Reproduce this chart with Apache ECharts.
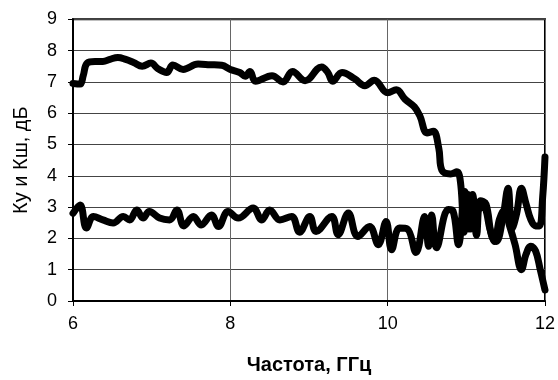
<!DOCTYPE html>
<html>
<head>
<meta charset="utf-8">
<script src="https://cdn.jsdelivr.net/npm/echarts@6/dist/echarts.min.js"></script>
<style>html,body{margin:0;padding:0;background:#fff}#c{width:558px;height:380px}</style>
</head>
<body>
<div id="c"></div>
<script>
// Ку (gain), frequency in GHz and value in dB
var kuFreq = [6.00,6.09,6.13,6.18,6.28,6.38,6.47,6.57,6.67,6.77,6.88,6.99,7.08,7.19,7.27,7.40,7.59,7.74,7.89,8.00,8.12,8.19,8.25,8.32,8.53,8.67,8.79,8.95,9.16,9.24,9.30,9.42,9.58,9.71,9.83,10.00,10.11,10.22,10.34,10.41,10.50,10.58,10.65,10.69,10.80,10.88,10.93,10.97,11.02,11.06,11.10,11.15,11.20,11.25,11.30,11.36,11.42,11.48,11.55,11.62,11.70,11.76,11.82,11.88,11.94,12.00];
var kuVal  = [6.95,6.93,7.20,7.60,7.65,7.65,7.72,7.78,7.72,7.62,7.50,7.60,7.42,7.30,7.54,7.40,7.57,7.55,7.53,7.40,7.30,7.18,7.33,7.02,7.20,7.00,7.33,7.04,7.48,7.30,7.02,7.30,7.10,6.88,7.05,6.65,6.75,6.45,6.20,5.91,5.37,5.42,4.88,4.17,4.06,4.13,3.70,2.20,3.40,2.30,3.20,2.90,3.10,2.90,2.30,1.90,2.60,2.90,2.40,1.80,1.00,1.50,1.75,1.60,1.00,0.35];
// Кш (noise figure)
var kshFreq = [6.00,6.09,6.17,6.26,6.38,6.51,6.64,6.72,6.81,6.89,6.97,7.10,7.23,7.32,7.41,7.53,7.63,7.76,7.85,7.97,8.10,8.29,8.40,8.50,8.63,8.78,8.88,9.01,9.09,9.29,9.37,9.50,9.62,9.77,9.88,9.98,10.05,10.15,10.25,10.36,10.47,10.52,10.56,10.62,10.77,10.83,10.90,10.98,11.03,11.08,11.13,11.18,11.25,11.32,11.38,11.46,11.53,11.58,11.64,11.70,11.76,11.82,11.88,11.93,11.97,12.00];
var kshVal  = [2.80,3.07,2.33,2.70,2.59,2.49,2.70,2.59,2.91,2.65,2.86,2.65,2.59,2.91,2.40,2.70,2.43,2.75,2.38,2.86,2.65,2.97,2.59,2.91,2.59,2.70,2.20,2.70,2.22,2.70,2.12,2.81,2.06,2.38,1.80,2.54,1.64,2.33,2.30,1.55,2.70,1.75,2.75,1.70,2.92,2.88,1.80,3.50,2.30,3.40,2.10,3.20,3.10,2.10,1.90,2.60,3.60,2.30,2.80,3.60,3.10,2.60,2.40,2.40,3.30,4.60];
var xTicks = [6, 8, 10, 12];
var yTicks = [0,1,2,3,4,5,6,7,8,9];
var xTitle = 'Частота, ГГц';
var yTitle = 'Ку и Кш, дБ';

function pairs(xs, ys){ return xs.map(function(x,i){ return [x, ys[i]]; }); }

var chart = echarts.init(document.getElementById('c'), null, {renderer:'canvas'});
var font = 'Liberation Sans, Arial, sans-serif';
chart.setOption({
  animation: false,
  backgroundColor: '#fff',
  grid: {left: 73, right: 12.5, top: 19.3, bottom: 78.7, show: true, borderColor: '#000', borderWidth: 2, containLabel: false},
  xAxis: {
    type: 'value', min: xTicks[0], max: xTicks[xTicks.length-1], interval: 2,
    name: xTitle, nameLocation: 'middle', nameGap: 54,
    nameTextStyle: {fontFamily: font, fontSize: 20, fontWeight: 'bold', color: '#000'},
    axisLine: {show: true, lineStyle: {color: '#000', width: 2}},
    axisTick: {show: true, inside: false, length: 5, lineStyle: {color: '#000', width: 1}},
    axisLabel: {fontFamily: font, fontSize: 18, color: '#000', margin: 14},
    splitLine: {show: true, lineStyle: {color: '#666', width: 1}}
  },
  yAxis: {
    type: 'value', min: yTicks[0], max: yTicks[yTicks.length-1], interval: 1,
    name: yTitle, nameLocation: 'middle', nameGap: 42, nameRotate: 90,
    nameTextStyle: {fontFamily: font, fontSize: 20, color: '#000'},
    axisLine: {show: true, lineStyle: {color: '#000', width: 2}},
    axisTick: {show: true, inside: false, length: 5, lineStyle: {color: '#000', width: 1}},
    axisLabel: {fontFamily: font, fontSize: 18, color: '#000', margin: 16},
    splitLine: {show: true, lineStyle: {color: '#444', width: 1}}
  },
  series: [
    {type: 'line', data: pairs(kuFreq, kuVal), smooth: 0.4, showSymbol: false,
     lineStyle: {color: '#000', width: 7, cap: 'round', join: 'round'}},
    {type: 'line', data: pairs(kshFreq, kshVal), smooth: 0.4, showSymbol: false,
     lineStyle: {color: '#000', width: 7, cap: 'round', join: 'round'}}
  ]
});
</script>
</body>
</html>
